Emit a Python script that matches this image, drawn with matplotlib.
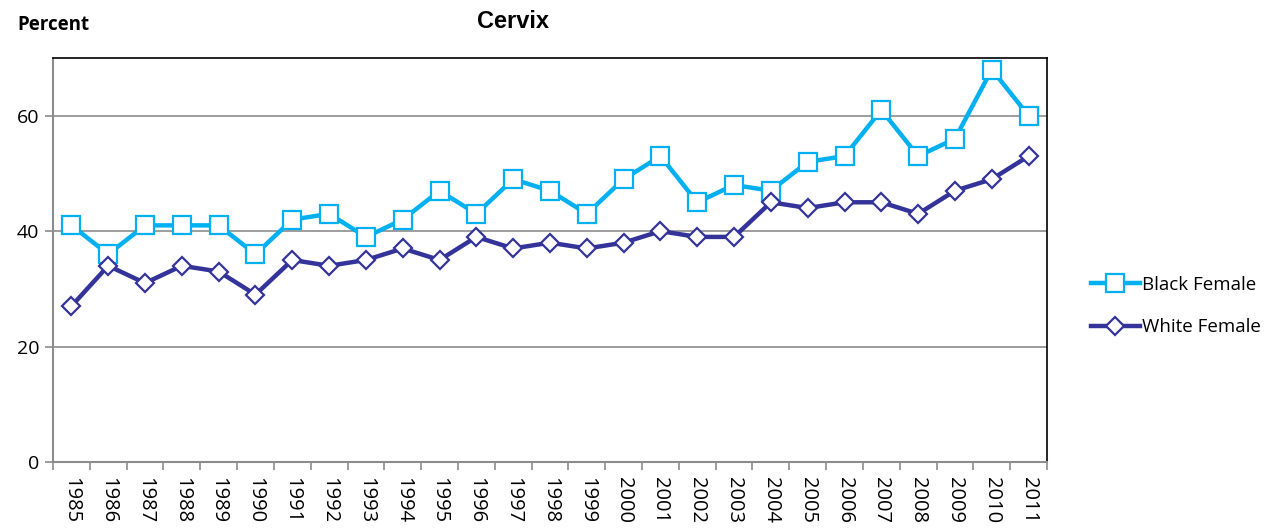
import matplotlib
matplotlib.use("Agg")
import matplotlib.pyplot as plt
from matplotlib.ticker import FixedLocator, FixedFormatter

years = [str(y) for y in range(1985, 2012)]
black_female = [41, 36, 41, 41, 41, 36, 42, 43, 39, 42, 47, 43, 49, 47, 43, 49, 53, 45, 48, 47, 52, 53, 61, 53, 56, 68, 60]
white_female = [27, 34, 31, 34, 33, 29, 35, 34, 35, 37, 35, 39, 37, 38, 37, 38, 40, 39, 39, 45, 44, 45, 45, 43, 47, 49, 53]
y_ticks = [0, 20, 40, 60]

plt.rcParams['font.family'] = ['Open Sans', 'DejaVu Sans']

fig = plt.figure(figsize=(12.81, 5.29), dpi=100)
ax = fig.add_axes([53/1281, 67/529, (1047-53)/1281, (462-58)/529])

x = list(range(len(years)))
ax.plot(x, black_female, color='#00B0F0', lw=3.2, marker='s', ms=12.5,
        mfc='white', mec='#00B0F0', mew=1.6, label='Black Female', zorder=3)
ax.plot(x, white_female, color='#333399', lw=3.2, marker='D', ms=9,
        mfc='white', mec='#333399', mew=1.6, label='White Female', zorder=4)

ax.set_xlim(-0.5, len(years) - 0.5)
ax.set_ylim(0, 70)
ax.set_yticks(y_ticks)
ax.set_yticklabels([str(v) for v in y_ticks], fontsize=14)
ax.yaxis.grid(True, color='#8c8c8c', lw=1.2)
ax.set_axisbelow(True)

ax.xaxis.set_major_locator(FixedLocator(x))
ax.xaxis.set_major_formatter(FixedFormatter(years))
ax.xaxis.set_minor_locator(FixedLocator([i - 0.5 for i in range(len(years) + 1)]))
ax.tick_params(axis='x', which='major', length=0, pad=11, labelsize=14.5, labelrotation=270)
ax.tick_params(axis='x', which='minor', length=6, color='#8c8c8c', width=1.2, direction='out')
ax.tick_params(axis='y', length=6, color='#8c8c8c', width=1.2, pad=4)
for lbl in ax.get_xticklabels():
    lbl.set_verticalalignment('top')

ax.spines['left'].set_color('#8c8c8c')
ax.spines['bottom'].set_color('#8c8c8c')
ax.spines['left'].set_linewidth(1.5)
ax.spines['bottom'].set_linewidth(1.5)
ax.spines['top'].set_color('black')
ax.spines['right'].set_color('black')
ax.spines['top'].set_linewidth(1.2)
ax.spines['right'].set_linewidth(1.2)

fig.text(513/1281, 1 - 21/529, 'Cervix', fontsize=17, fontweight='bold',
         family=['Liberation Sans', 'DejaVu Sans'], ha='center', va='center')
fig.text(17/1281, 1 - 25/529, 'Percent', fontsize=13.5, fontweight='bold', ha='left', va='center')

leg = fig.legend(loc='center left', bbox_to_anchor=(1074/1281, 1 - 306/529), frameon=False,
                 fontsize=13.5, handlelength=2.6, handletextpad=0.1, labelspacing=1.3)

fig.savefig('out.png', dpi=100)
